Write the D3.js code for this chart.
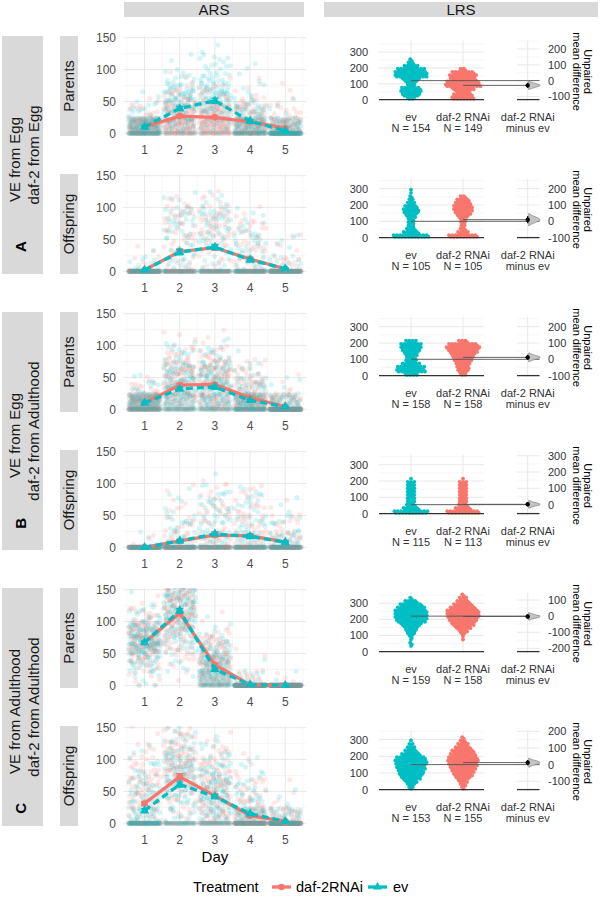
<!DOCTYPE html>
<html>
<head>
<meta charset="utf-8">
<script src="https://cdn.jsdelivr.net/npm/d3@7"></script>
<style>
html,body{margin:0;padding:0;background:#fff;}
svg text{font-family:"Liberation Sans",Arial,Helvetica,sans-serif;}
</style>
</head>
<body>
<svg id="chart" width="600" height="902"></svg>
<script>
// ================= DATA =================
const days = [1, 2, 3, 4, 5];
const treatments = ["daf-2RNAi", "ev"];
const generations = ["Parents", "Offspring"];
const rowTags = ["A", "B", "C"];
const rowLabelVE = ["VE from Egg", "VE from Egg", "VE from Adulthood"];
const rowLabelDaf = ["daf-2 from Egg", "daf-2 from Adulthood", "daf-2 from Adulthood"];
const arsTicks = [0, 50, 100, 150];
const arsMinorTicks = [25, 75, 125];

// ARS daily means (panels: A-Parents, A-Offspring, B-Parents, B-Offspring, C-Parents, C-Offspring)
const arsMeanDaf = [
  [10, 27, 25, 18, 8], [2, 31, 37, 19, 4], [10, 38, 39, 18, 4],
  [0, 10, 19, 18, 8], [67, 113, 32, 1, 0], [31, 73, 43, 12, 3]];
const arsMeanEv = [
  [10, 39, 51, 19, 4], [2, 30, 38, 18, 4], [10, 32, 35, 14, 4],
  [0, 10, 21, 17, 8], [67, 117, 25, 1, 0], [20, 61, 42, 15, 3]];
const arsSeDaf = [
  [1, 2, 2, 2, 1], [0.5, 4, 4, 3, 1], [1, 2.5, 2.5, 1.5, 0.5],
  [0, 2, 3, 3, 1.5], [2, 3, 2, 0.3, 0], [3, 5, 3, 1.5, 0.5]];
const arsSeEv = [
  [1, 3, 4, 2, 0.5], [0.5, 4, 4, 3, 1], [1, 2.5, 2.5, 1.5, 0.5],
  [0, 2, 3, 3, 1.5], [2, 3, 2, 0.3, 0], [3, 4, 3, 1.5, 0.5]];

// Raw ARS clouds: number of worms per value bin  (0 | 1-25 | 25-50 | 50-75 | 75-100 | 100-125 | 125-150 | >150)
const binLow  = [0, 1, 25, 50, 75, 100, 125, 150];
const binHigh = [0, 25, 50, 75, 100, 125, 150, 175];
const cloudDaf = [
  [[40,95,14,0,0,0,0,0],[20,60,50,17,2,0,0,0],[20,62,50,15,2,0,0,0],[35,70,35,8,1,0,0,0],[70,65,12,2,0,0,0,0]],
  [[95,8,2,0,0,0,0,0],[52,10,8,12,18,5,0,0],[45,8,8,18,20,6,0,0],[60,12,15,12,6,0,0,0],[85,14,5,1,0,0,0,0]],
  [[50,95,13,0,0,0,0,0],[20,40,40,40,15,3,0,0],[20,40,40,40,16,2,0,0],[40,70,35,12,1,0,0,0],[110,43,5,0,0,0,0,0]],
  [[110,3,0,0,0,0,0,0],[80,15,10,6,2,0,0,0],[62,18,12,13,7,1,0,0],[60,20,15,12,6,0,0,0],[75,25,10,3,0,0,0,0]],
  [[2,5,25,60,50,14,2,0],[0,2,8,18,30,40,40,20],[15,50,55,30,7,1,0,0],[140,16,2,0,0,0,0,0],[155,3,0,0,0,0,0,0]],
  [[60,20,25,25,15,7,3,0],[25,8,15,25,35,28,16,3],[30,25,30,35,22,10,3,0],[80,40,20,10,4,1,0,0],[120,30,4,1,0,0,0,0]]];
const cloudEv = [
  [[50,88,14,2,0,0,0,0],[15,40,45,40,12,2,0,0],[10,30,40,40,22,10,2,0],[40,75,30,5,2,2,0,0],[100,50,4,0,0,0,0,0]],
  [[95,9,1,0,0,0,0,0],[50,12,10,12,16,5,0,0],[45,8,10,16,20,6,0,0],[60,14,14,12,5,0,0,0],[87,12,5,1,0,0,0,0]],
  [[50,96,12,0,0,0,0,0],[25,45,45,30,12,1,0,0],[22,45,42,35,13,1,0,0],[50,75,25,7,1,0,0,0],[112,42,4,0,0,0,0,0]],
  [[112,3,0,0,0,0,0,0],[82,14,12,5,2,0,0,0],[60,18,14,13,9,1,0,0],[62,20,15,12,6,0,0,0],[78,24,10,3,0,0,0,0]],
  [[2,6,28,62,48,12,1,0],[0,2,6,18,30,40,42,21],[20,58,50,25,5,1,0,0],[145,13,1,0,0,0,0,0],[157,2,0,0,0,0,0,0]],
  [[75,25,22,18,9,4,0,0],[30,10,18,28,32,22,11,2],[32,26,32,32,20,9,2,0],[78,40,20,10,4,1,0,0],[122,28,3,0,0,0,0,0]]];

// LRS (dabest estimation plots)
const lrsGroups = ["ev", "daf-2 RNAi"];
const lrsDeltaLabel = ["daf-2 RNAi", "minus ev"];
const lrsNev  = [154, 105, 158, 115, 159, 153];
const lrsNdaf = [149, 105, 158, 113, 158, 155];
const lrsMeanEv  = [120, 100, 100, 55, 220, 150];
const lrsMeanDaf = [90, 110, 112, 57, 218, 162];
const lrsCiHalf  = [16, 22, 16, 14, 14, 16];
const lrsAxisMax = [373, 362, 362, 362, 366, 354];
const lrsTicks = [0, 100, 200, 300];
const swarmBin = 20;   // counts per 20-unit LRS bin, starting at 0
const swarmEv = [
  [5,11,13,12,5,7,11,20,20,17,9,4,2],
  [22,10,6,4,4,4,6,9,10,8,5,3,2,1,1],
  [8,18,17,11,7,6,8,11,13,13,7],
  [21,10,6,5,5,5,5,5,5,5,1],
  [0,1,2,1,2,5,7,9,13,18,20,20,20,17,14,8,2],
  [3,5,8,12,15,16,18,19,20,18,12,8,5,3,1]];
const swarmDaf = [
  [14,12,9,14,22,20,16,17,14,4],
  [18,7,4,3,3,4,7,10,12,12,10,8,4],
  [4,7,8,9,11,13,15,18,21,18,6],
  [20,10,6,5,5,5,5,5,5,5,1],
  [0,0,0,1,1,3,6,10,14,17,19,20,20,16,12,8,5,2],
  [2,4,6,9,12,14,16,18,19,18,16,14,10,7,4,2]];
const bootProfile = [0.05, 0.2, 0.5, 0.85, 1, 0.85, 0.5, 0.2, 0.05];

// ================= DRAW =================
const RED = "#F8766D", TEAL = "#00BFC4", STRIP = "#d9d9d9";
const GRID = "#e8e8e8", GRIDMIN = "#f2f2f2", TICK = "#4d4d4d";
const svg = d3.select("#chart");

// deterministic jitter helper (Halton low-discrepancy sequence)
function halton(i, b) { let f = 1, r = 0; while (i > 0) { f /= b; r += f * (i % b); i = Math.floor(i / b); } return r; }

// layout
const zeroOf = p => 133.3 + 138 * p;
const x = d3.scaleLinear().domain([0.4, 5.6]).range([123.4, 306.4]);
const plotL = 123.4, plotR = 306.4;

function strip(x0, y0, w, h) {
  svg.append("rect").attr("x", x0).attr("y", y0).attr("width", w).attr("height", h).attr("fill", STRIP);
}
strip(124, 2, 180, 15);
svg.append("text").attr("x", 214).attr("y", 15).attr("text-anchor", "middle")
  .attr("font-size", 15).attr("fill", "#1a1a1a").text("ARS");
strip(324, 2, 274, 15);
svg.append("text").attr("x", 461).attr("y", 15).attr("text-anchor", "middle")
  .attr("font-size", 15).attr("fill", "#1a1a1a").text("LRS");

const defs = svg.append("defs");

// --------- ARS panels ---------
for (let p = 0; p < 6; p++) {
  const Z = zeroOf(p);
  const y = d3.scaleLinear().domain([0, 150]).range([Z, Z - 95.6]);
  const top = Z - 97.3, bottom = Z + 2.7;
  const g = svg.append("g");

  arsMinorTicks.forEach(t => g.append("line").attr("x1", plotL).attr("x2", plotR)
    .attr("y1", y(t)).attr("y2", y(t)).attr("stroke", GRIDMIN).attr("stroke-width", 0.7));
  [0.5, 1.5, 2.5, 3.5, 4.5, 5.5].forEach(t => g.append("line").attr("x1", x(t)).attr("x2", x(t))
    .attr("y1", top).attr("y2", bottom).attr("stroke", GRIDMIN).attr("stroke-width", 0.7));
  arsTicks.forEach(t => g.append("line").attr("x1", plotL).attr("x2", plotR)
    .attr("y1", y(t)).attr("y2", y(t)).attr("stroke", GRID).attr("stroke-width", 1));
  days.forEach(t => g.append("line").attr("x1", x(t)).attr("x2", x(t))
    .attr("y1", top).attr("y2", bottom).attr("stroke", GRID).attr("stroke-width", 1));

  arsTicks.forEach(t => g.append("text").attr("x", 116).attr("y", y(t) + 4.3)
    .attr("text-anchor", "end").attr("font-size", 12).attr("fill", TICK).text(t));
  days.forEach(t => g.append("text").attr("x", x(t)).attr("y", Z + 21)
    .attr("text-anchor", "middle").attr("font-size", 12).attr("fill", TICK).text(t));

  const cid = "clip" + p;
  defs.append("clipPath").attr("id", cid).append("rect")
    .attr("x", plotL).attr("y", top).attr("width", plotR - plotL).attr("height", bottom - top);
  const pg = g.append("g").attr("clip-path", `url(#${cid})`);

  // raw jittered points: each counted worm placed inside its bin with deterministic jitter
  function cloud(counts, start) {
    const pts = []; let k = start;
    counts.forEach((c, b) => {
      for (let m = 0; m < c; m++) {
        k++;
        const dx = (halton(k, 2) - 0.5) * 0.9;
        let v = 0;
        if (b === 1) v = binLow[b] + halton(k, 3) * (binHigh[b] - binLow[b]);
        else if (b > 1) {
          const c0 = (binLow[b] + binHigh[b]) / 2, w = binHigh[b] - binLow[b];
          v = c0 + (halton(k, 3) + halton(k, 5) - 1) * w * 0.85;
        }
        pts.push({ dx, v });
      }
    });
    return pts;
  }
  days.forEach((d, di) => {
    const a = cloud(cloudDaf[p][di], 37 * p + 211 * di + 5);
    const b = cloud(cloudEv[p][di], 53 * p + 173 * di + 1013);
    const n = Math.max(a.length, b.length);
    for (let i = 0; i < n; i++) {
      if (i < a.length) pg.append("circle").attr("cx", x(d + a[i].dx)).attr("cy", y(a[i].v))
        .attr("r", 2.5).attr("fill", RED).attr("fill-opacity", 0.16);
      if (i < b.length) pg.append("circle").attr("cx", x(d + b[i].dx)).attr("cy", y(b[i].v))
        .attr("r", 2.5).attr("fill", TEAL).attr("fill-opacity", 0.16);
    }
  });

  const series = [
    { mean: arsMeanDaf[p], se: arsSeDaf[p], color: RED, dash: null, shape: d3.symbolCircle, size: 34 },
    { mean: arsMeanEv[p], se: arsSeEv[p], color: TEAL, dash: "7,4", shape: d3.symbolTriangle, size: 38 }];
  series.forEach(s => {
    const line = d3.line().x((v, i) => x(days[i])).y(v => y(v));
    pg.append("path").attr("d", line(s.mean)).attr("fill", "none").attr("stroke", s.color)
      .attr("stroke-width", 3.3).attr("stroke-dasharray", s.dash);
    s.mean.forEach((m, i) => {
      const cx = x(days[i]);
      pg.append("line").attr("x1", cx).attr("x2", cx).attr("y1", y(m - s.se[i])).attr("y2", y(m + s.se[i]))
        .attr("stroke", s.color).attr("stroke-width", 1.4);
      [m - s.se[i], m + s.se[i]].forEach(e => pg.append("line").attr("x1", cx - 3.5).attr("x2", cx + 3.5)
        .attr("y1", y(e)).attr("y2", y(e)).attr("stroke", s.color).attr("stroke-width", 1.4));
      pg.append("path").attr("d", d3.symbol().type(s.shape).size(s.size)())
        .attr("transform", `translate(${cx},${y(m)})`).attr("fill", s.color);
    });
  });

  strip(60, top, 18, bottom - top);
  svg.append("text").attr("transform", `translate(69,${(top + bottom) / 2}) rotate(-90)`)
    .attr("text-anchor", "middle").attr("dy", "0.36em").attr("font-size", 15).attr("fill", "#1a1a1a")
    .text(generations[p % 2]);
}

svg.append("text").attr("x", x(3)).attr("y", 862).attr("text-anchor", "middle")
  .attr("font-size", 15).attr("fill", "#000").text("Day");

// --------- Row strips ---------
const tagY = [246.7, 523.3, 808.3];
for (let r = 0; r < 3; r++) {
  const top = zeroOf(2 * r) - 97.3, bottom = zeroOf(2 * r + 1) + 2.7;
  const cy = (top + bottom) / 2;
  strip(2, top, 41, bottom - top);
  svg.append("text").attr("transform", `translate(0,${cy + 4.5}) rotate(-90)`)
    .attr("x", 0).attr("y", 20).attr("text-anchor", "middle").attr("font-size", 15).attr("fill", "#1a1a1a")
    .text(rowLabelVE[r]);
  svg.append("text").attr("transform", `translate(0,${cy}) rotate(-90)`)
    .attr("x", 0).attr("y", 38.5).attr("text-anchor", "middle").attr("font-size", 15).attr("fill", "#1a1a1a")
    .text(rowLabelDaf[r]);
  svg.append("text").attr("transform", `translate(0,${tagY[r]}) rotate(-90)`)
    .attr("x", 0).attr("y", 25.5).attr("text-anchor", "middle").attr("font-size", 15)
    .attr("font-weight", "bold").attr("fill", "#000").text(rowTags[r]);
}

// --------- LRS panels ---------
const xG = d3.scalePoint().domain(lrsGroups).range([411, 463]);
const xD = 527.7;
const rawL = 379, rawR = 484, dL = 517, dR = 539.5;
for (let p = 0; p < 6; p++) {
  const zeroY = zeroOf(p) - 33.7;
  const yL = d3.scaleLinear().domain([0, lrsAxisMax[p]]).range([zeroY, zeroY - 59]);
  const ev = lrsMeanEv[p], daf = lrsMeanDaf[p], delta = daf - ev;
  const yR = v => yL(v + ev);
  const topY = zeroY - 59, botY = zeroY + 1.5;
  const g = svg.append("g");

  const maxV = lrsAxisMax[p];
  for (let t = 50; t <= maxV; t += 100)
    g.append("line").attr("x1", rawL).attr("x2", rawR).attr("y1", yL(t)).attr("y2", yL(t))
      .attr("stroke", GRIDMIN).attr("stroke-width", 0.7);
  lrsTicks.forEach(t => g.append("line").attr("x1", rawL).attr("x2", rawR).attr("y1", yL(t)).attr("y2", yL(t))
    .attr("stroke", GRID).attr("stroke-width", 1));
  const rTicks = [], rMinor = [];
  for (let t = -300; t <= 400; t += 100) {
    if (t >= -ev - 1 && t <= maxV - ev) rTicks.push(t);
    if (t + 50 >= -ev && t + 50 <= maxV - ev) rMinor.push(t + 50);
  }
  rMinor.forEach(t => g.append("line").attr("x1", dL).attr("x2", dR).attr("y1", yR(t)).attr("y2", yR(t))
    .attr("stroke", GRIDMIN).attr("stroke-width", 0.7));
  rTicks.forEach(t => g.append("line").attr("x1", dL).attr("x2", dR).attr("y1", yR(t)).attr("y2", yR(t))
    .attr("stroke", GRID).attr("stroke-width", 1));
  [xG("ev"), xG("daf-2 RNAi"), xD].forEach(cx => g.append("line").attr("x1", cx).attr("x2", cx)
    .attr("y1", topY).attr("y2", botY).attr("stroke", GRID).attr("stroke-width", 1));

  lrsTicks.forEach(t => g.append("text").attr("x", 368).attr("y", yL(t) + 4)
    .attr("text-anchor", "end").attr("font-size", 11).attr("fill", "#333").text(t));
  rTicks.forEach(t => g.append("text").attr("x", 548).attr("y", yR(t) + 4)
    .attr("text-anchor", "start").attr("font-size", 11).attr("fill", "#333").text(t));

  function swarm(counts, cx, color) {
    counts.forEach((c, j) => {
      const yc = yL(j * swarmBin + swarmBin / 2);
      for (let m = 0; m < c; m++) {
        const off = (m - (c - 1) / 2) * 1.65;
        g.append("circle").attr("cx", cx + off).attr("cy", yc + (m % 2 ? 0.8 : -0.8))
          .attr("r", 1.9).attr("fill", color);
      }
    });
  }
  swarm(swarmEv[p], xG("ev"), TEAL);
  swarm(swarmDaf[p], xG("daf-2 RNAi"), RED);

  g.append("line").attr("x1", rawL).attr("x2", rawR).attr("y1", zeroY).attr("y2", zeroY)
    .attr("stroke", "#333").attr("stroke-width", 1.3);
  g.append("line").attr("x1", dL).attr("x2", dR).attr("y1", zeroY).attr("y2", zeroY)
    .attr("stroke", "#333").attr("stroke-width", 1.3);

  g.append("line").attr("x1", xG("ev")).attr("x2", dR).attr("y1", yL(ev)).attr("y2", yL(ev))
    .attr("stroke", "#555").attr("stroke-width", 0.9);
  g.append("line").attr("x1", xG("daf-2 RNAi")).attr("x2", dR).attr("y1", yL(daf)).attr("y2", yL(daf))
    .attr("stroke", "#555").attr("stroke-width", 0.9);

  const ci = lrsCiHalf[p];
  const nb = bootProfile.length;
  const vpts = bootProfile.map((w, i) => [xD + 1 + w * 12, yR(delta + ((i - (nb - 1) / 2) / ((nb - 1) / 2)) * 1.7 * ci)]);
  const vpath = d3.line().curve(d3.curveBasis)([[xD + 1, vpts[0][1]], ...vpts, [xD + 1, vpts[nb - 1][1]]]);
  g.append("path").attr("d", vpath + "Z").attr("fill", "#c4c4c4").attr("stroke", "#777").attr("stroke-width", 0.6);
  g.append("line").attr("x1", xD).attr("x2", xD).attr("y1", yR(delta - ci)).attr("y2", yR(delta + ci))
    .attr("stroke", "#000").attr("stroke-width", 1.2);
  g.append("circle").attr("cx", xD).attr("cy", yR(delta)).attr("r", 2.2).attr("fill", "#000");

  const lab = (cx, l1, l2) => {
    g.append("text").attr("x", cx).attr("y", zeroY + 21.5).attr("text-anchor", "middle")
      .attr("font-size", 11).attr("fill", "#333").text(l1);
    g.append("text").attr("x", cx).attr("y", zeroY + 32.5).attr("text-anchor", "middle")
      .attr("font-size", 11).attr("fill", "#333").text(l2);
  };
  lab(xG("ev"), "ev", "N = " + lrsNev[p]);
  lab(xG("daf-2 RNAi"), "daf-2 RNAi", "N = " + lrsNdaf[p]);
  lab(xD, lrsDeltaLabel[0], lrsDeltaLabel[1]);

  const cy = zeroY - 28;
  svg.append("text").attr("transform", `translate(0,${cy}) rotate(90)`).attr("x", 0).attr("y", -584)
    .attr("text-anchor", "middle").attr("font-size", 11).attr("fill", "#000").text("Unpaired");
  svg.append("text").attr("transform", `translate(0,${cy}) rotate(90)`).attr("x", 0).attr("y", -573)
    .attr("text-anchor", "middle").attr("font-size", 11).attr("fill", "#000").text("mean difference");
}

// --------- Legend ---------
const ly = 887;
svg.append("text").attr("x", 193).attr("y", ly + 5).attr("font-size", 14.5).attr("fill", "#000").text("Treatment");
const keys = [
  { x0: 272, label: treatments[0], color: RED, dash: null, shape: d3.symbolCircle, lx: 296 },
  { x0: 368, label: treatments[1], color: TEAL, dash: "7,4", shape: d3.symbolTriangle, lx: 393 }];
keys.forEach(k => {
  svg.append("line").attr("x1", k.x0).attr("x2", k.x0 + 19).attr("y1", ly).attr("y2", ly)
    .attr("stroke", k.color).attr("stroke-width", 3.3);
  svg.append("path").attr("d", d3.symbol().type(k.shape).size(34)())
    .attr("transform", `translate(${k.x0 + 9.5},${ly})`).attr("fill", k.color);
  svg.append("text").attr("x", k.lx).attr("y", ly + 5).attr("font-size", 14.5).attr("fill", "#000").text(k.label);
});
</script>
</body>
</html>
